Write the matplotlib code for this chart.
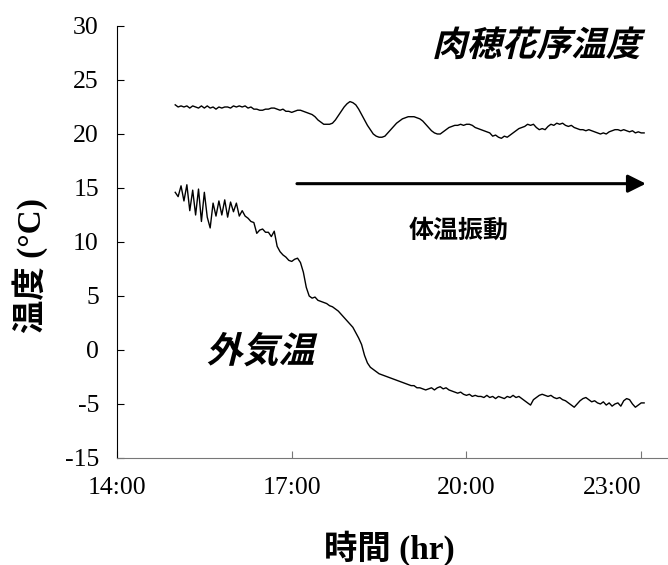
import numpy as np
import matplotlib
matplotlib.use('Agg')
import matplotlib.pyplot as plt
from matplotlib import patheffects
from matplotlib.transforms import Affine2D

# 3 minute readings starting 15:00
inicio = 15.0
paso = 3 / 60.0

temp_flor = [
    22.7, 22.5, 22.6, 22.5, 22.6, 22.4, 22.6, 22.5, 22.4, 22.6,
    22.4, 22.6, 22.4, 22.5, 22.3, 22.5, 22.4, 22.5, 22.5, 22.4,
    22.6, 22.5, 22.6, 22.5, 22.6, 22.4, 22.5, 22.3, 22.3, 22.2,
    22.2, 22.3, 22.3, 22.4, 22.4, 22.3, 22.2, 22.3, 22.1, 22.1,
    22.0, 22.1, 22.2, 22.2, 22.1, 22.0, 21.9, 21.8, 21.6, 21.3,
    21.1, 20.9, 20.9, 20.9, 21.0, 21.3, 21.7, 22.1, 22.5, 22.8,
    23.0, 22.9, 22.7, 22.3, 21.8, 21.3, 20.8, 20.4, 20.0, 19.8,
    19.7, 19.7, 19.8, 20.1, 20.4, 20.7, 21.0, 21.2, 21.4, 21.5,
    21.6, 21.6, 21.6, 21.5, 21.4, 21.2, 20.9, 20.6, 20.3, 20.1,
    20.0, 20.0, 20.2, 20.4, 20.6, 20.7, 20.8, 20.8, 20.9, 20.8,
    20.9, 20.9, 20.8, 20.6, 20.5, 20.4, 20.3, 20.2, 20.1, 19.8,
    19.9, 19.7, 19.6, 19.8, 19.7, 19.9, 20.1, 20.3, 20.5, 20.6,
    20.7, 20.9, 20.8, 20.9, 20.6, 20.4, 20.5, 20.4, 20.7, 20.9,
    20.8, 21.0, 20.9, 21.0, 20.8, 20.7, 20.8, 20.6, 20.5, 20.4,
    20.4, 20.3, 20.4, 20.3, 20.2, 20.1, 20.0, 20.1, 20.0, 20.2,
    20.3, 20.4, 20.4, 20.3, 20.4, 20.3, 20.2, 20.3, 20.1, 20.2,
    20.1, 20.1,
]

temp_aire = [
    14.6, 14.2, 15.2, 13.8, 15.3, 12.9, 14.8, 12.5, 14.9, 11.9,
    14.6, 12.3, 11.3, 13.6, 12.4, 13.8, 12.5, 13.9, 12.3, 13.7,
    12.8, 13.6, 12.4, 12.9, 12.4, 12.2, 11.9, 11.8, 10.8, 11.1,
    11.2, 10.9, 10.9, 10.5, 11.0, 9.6, 9.1, 8.8, 8.6, 8.3,
    8.2, 8.4, 8.5, 8.1, 7.2, 5.8, 5.0, 4.8, 4.9, 4.6,
    4.5, 4.4, 4.3, 4.1, 4.0, 3.8, 3.6, 3.3, 3.0, 2.7,
    2.4, 2.1, 1.6, 1.1, 0.5, -0.5, -1.2, -1.6, -1.8, -2.0,
    -2.2, -2.3, -2.4, -2.5, -2.6, -2.7, -2.8, -2.9, -3.0, -3.1,
    -3.2, -3.3, -3.3, -3.5, -3.5, -3.6, -3.7, -3.6, -3.5, -3.7,
    -3.5, -3.4, -3.6, -3.5, -3.7, -3.8, -3.9, -4.0, -3.9, -4.1,
    -4.2, -4.1, -4.3, -4.2, -4.3, -4.3, -4.4, -4.2, -4.4, -4.3,
    -4.5, -4.3, -4.4, -4.5, -4.3, -4.4, -4.2, -4.4, -4.3, -4.5,
    -4.7, -4.9, -5.1, -4.6, -4.4, -4.2, -4.1, -4.2, -4.3, -4.2,
    -4.4, -4.5, -4.4, -4.6, -4.7, -4.9, -5.1, -5.3, -5.0, -4.7,
    -4.5, -4.4, -4.6, -4.8, -4.7, -4.9, -5.0, -4.8, -5.1, -4.9,
    -5.2, -5.0, -4.9, -5.2, -4.7, -4.5, -4.6, -5.0, -5.3, -5.1,
    -4.9, -4.9,
]

horas = [14, 17, 20, 23]
horas_txt = ['14:00', '17:00', '20:00', '23:00']
temps = [-10, -5, 0, 5, 10, 15, 20, 25, 30]
temps_txt = ['-15', '-5', '0', '5', '10', '15', '20', '25', '30']


class Inclinado(patheffects.AbstractPathEffect):
    # fake italic: shear the glyph outlines
    def __init__(self, grados):
        super().__init__()
        self._shear = Affine2D().skew_deg(grados, 0)

    def draw_path(self, renderer, gc, tpath, affine, rgbFace=None):
        renderer.draw_path(gc, tpath, self._shear + affine, rgbFace)


cjk = ['Noto Sans CJK JP']
mixto = ['Liberation Serif', 'Noto Sans CJK JP']

t1 = inicio + np.arange(len(temp_flor)) * paso
t2 = inicio + np.arange(len(temp_aire)) * paso

fig = plt.figure(figsize=(6.68, 5.65), dpi=100)
ax = fig.add_axes([0.1751, 0.1894, 0.8249, 0.7646])

ax.plot(t1, temp_flor, color='black', lw=1.0)
ax.plot(t2, temp_aire, color='black', lw=1.0)

ax.set_xlim(14, 23.46)
ax.set_ylim(-10, 30)
ax.set_xticks(horas)
ax.set_xticklabels(horas_txt, family='Liberation Serif', fontsize=18.5)
ax.set_yticks(temps)
ax.set_yticklabels(temps_txt, family='Liberation Serif', fontsize=18.5)
ax.tick_params(axis='y', direction='in', length=5, pad=13, color='black')
ax.tick_params(axis='x', direction='in', length=5, pad=14, color='#777777')
# last hour label kept inside the figure
ax.get_xticklabels()[-1].set_horizontalalignment('right')

ax.spines['top'].set_visible(False)
ax.spines['right'].set_visible(False)
ax.spines['bottom'].set_color('#777777')
ax.spines['left'].set_color('black')

ax.set_xlabel('時間 (hr)', family=mixto, fontweight='bold', fontsize=24)
ax.set_ylabel('温度 (°C)', family=mixto, fontweight='bold', fontsize=24)
ax.xaxis.set_label_coords(0.495, -0.168)
ax.yaxis.set_label_coords(-0.125, 0.445)

ital = [Inclinado(14)]
ax.text(21.2, 28.2, '肉穂花序温度', family=cjk, fontweight='bold', fontsize=25,
        ha='center', va='center', path_effects=ital)
ax.text(16.46, -0.2, '外気温', family=cjk, fontweight='bold', fontsize=26,
        ha='center', va='center', path_effects=ital)
ax.text(19.87, 11.0, '体温振動', family=cjk, fontweight='bold', fontsize=18,
        ha='center', va='center')

ax.annotate('', xy=(23.08, 15.4), xytext=(17.09, 15.4),
            arrowprops=dict(arrowstyle='-|>', lw=2.2, color='black',
                            mutation_scale=27, shrinkA=0, shrinkB=0))

plt.savefig('out.png', dpi=100)
